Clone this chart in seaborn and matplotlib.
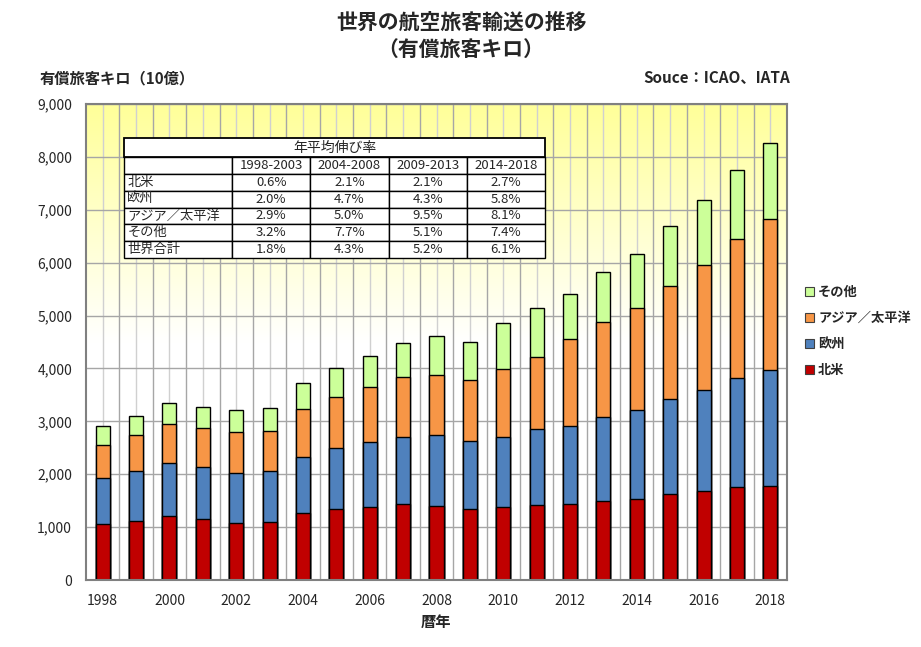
import numpy as np
import pandas as pd
import matplotlib
matplotlib.use("Agg")
import matplotlib.pyplot as plt
import seaborn as sns
from matplotlib.patches import Patch

# data (10億 有償旅客キロ)
years = list(range(1998, 2019))
north_america = [1060, 1123, 1212, 1155, 1086, 1098, 1263, 1351, 1389, 1433, 1408,
                 1345, 1389, 1427, 1446, 1496, 1540, 1623, 1692, 1755, 1768]
europe = [866, 936, 998, 979, 928, 966, 1054, 1143, 1212, 1275, 1325,
          1288, 1319, 1420, 1471, 1579, 1667, 1799, 1894, 2071, 2203]
asia_pacific = [625, 674, 738, 732, 789, 752, 909, 961, 1044, 1134, 1147,
                1142, 1288, 1364, 1635, 1799, 1932, 2146, 2367, 2629, 2863]
others = [352, 360, 391, 411, 404, 429, 492, 555, 590, 633, 725,
          733, 865, 941, 852, 947, 1016, 1127, 1225, 1300, 1431]

regions = ["北米", "欧州", "アジア／太平洋", "その他"]
colors = ["#C00000", "#4F81BD", "#F79646", "#CCFF99"]

# growth table
periods = ["1998-2003", "2004-2008", "2009-2013", "2014-2018"]
table_rows = ["北米", "欧州", "アジア／太平洋", "その他", "世界合計"]
growth = [["0.6%", "2.1%", "2.1%", "2.7%"],
          ["2.0%", "4.7%", "4.3%", "5.8%"],
          ["2.9%", "5.0%", "9.5%", "8.1%"],
          ["3.2%", "7.7%", "5.1%", "7.4%"],
          ["1.8%", "4.3%", "5.2%", "6.1%"]]

sns.set_style("white")
plt.rcParams['font.family'] = ['Noto Sans CJK JP', 'DejaVu Sans']

df = pd.DataFrame({"year": [str(y) for y in years],
                   "北米": north_america, "欧州": europe,
                   "アジア／太平洋": asia_pacific, "その他": others})
cum = df[regions].cumsum(axis=1)

fig = plt.figure(figsize=(9.21, 6.47), dpi=100)
ax = fig.add_axes([86 / 921, 1 - 580 / 647, 701 / 921, 476 / 647])

# yellow gradient background
vals = np.linspace(0, 9000, 300)[:, None]
t = np.clip((vals - 4500) / 4500, 0, 1)
top = np.array([1.0, 1.0, 0.6])
grad = (1 - t)[..., None] * np.ones(3) + t[..., None] * top
ax.imshow(grad, extent=[-0.5, 20.5, 0, 9000], origin="lower", aspect="auto", zorder=0)

# stacked bars: tallest first
for reg, col in reversed(list(zip(regions, colors))):
    sns.barplot(x=df["year"], y=cum[reg], color=col, width=0.42,
                edgecolor="black", linewidth=1.0, saturation=1, ax=ax, zorder=2)

ax.set_xlim(-0.5, 20.5)
ax.set_ylim(0, 9000)
ax.set_yticks(range(0, 9001, 1000))
ax.set_yticklabels([f"{v:,}" for v in range(0, 9001, 1000)])
ax.set_xticks(range(0, 21, 2))
ax.set_xticklabels([str(y) for y in years[::2]])
ax.set_xticks(np.arange(0, 21, 1), minor=True)
ax.tick_params(axis="both", which="both", length=0, labelsize=10, pad=10)
ax.set_xlabel("")
ax.set_ylabel("")

ax.set_axisbelow(True)
ax.grid(axis="y", color="#A6A6A6", linewidth=1.0, zorder=1)
ax.grid(axis="x", which="minor", color="#D0D0D0", linewidth=1.0, zorder=1)
ax.grid(axis="x", which="major", color="#D0D0D0", linewidth=1.0, zorder=1)
for b in np.arange(0.5, 20, 1):
    ax.axvline(b, color="#A6A6A6", linewidth=1.0, zorder=1)
for s in ax.spines.values():
    s.set_color("#808080")
    s.set_linewidth(1.5)

# table
x0 = (124 - 86) / 701
x1 = (545 - 86) / 701
y0 = 1 - (258 - 104) / 476
y1 = 1 - (138 - 104) / 476
ym = 1 - (157 - 104) / 476
cell_text = [[""] + periods] + [[r] + g for r, g in zip(table_rows, growth)]
w_first = 108 / 421
w_other = (1 - w_first) / 4
tbl = ax.table(cellText=cell_text, bbox=[x0, y0, x1 - x0, ym - y0],
               colWidths=[w_first * (x1 - x0)] + [w_other * (x1 - x0)] * 4,
               cellLoc="center", zorder=5)
tbl.auto_set_font_size(False)
tbl.set_fontsize(9.5)
for (r, c), cell in tbl.get_celld().items():
    cell.set_facecolor("white")
    cell.set_edgecolor("black")
    cell.set_linewidth(1.0)
    if c == 0 and r >= 1:
        cell._loc = "left"
        cell.get_text().set_ha("left")
        cell.PAD = 0.03
head = ax.table(cellText=[["年平均伸び率"]], bbox=[x0, ym, x1 - x0, y1 - ym],
                cellLoc="center", zorder=5)
head.auto_set_font_size(False)
head.set_fontsize(10)
for cell in head.get_celld().values():
    cell.set_facecolor("white")
    cell.set_edgecolor("black")
    cell.set_linewidth(1.3)

# legend
handles = [Patch(facecolor=c, edgecolor="#404040", linewidth=0.8, label=r)
           for r, c in zip(regions, colors)][::-1]
fig.legend(handles=handles, loc="upper left", bbox_to_anchor=(793 / 921, 1 - 273 / 647),
           frameon=False, handlelength=0.7, handleheight=0.7, handletextpad=0.3,
           labelspacing=0.92, prop={"weight": "bold", "size": 9.5})

# texts
fig.text(461 / 921, 1 - 22 / 647, "世界の航空旅客輸送の推移", ha="center", va="center",
         fontsize=15, fontweight="bold")
fig.text(461 / 921, 1 - 50 / 647, "（有償旅客キロ）", ha="center", va="center",
         fontsize=15, fontweight="bold")
fig.text(40 / 921, 1 - 78 / 647, "有償旅客キロ（10億）", ha="left", va="center",
         fontsize=11, fontweight="bold")
fig.text(790 / 921, 1 - 78 / 647, "Souce：ICAO、IATA", ha="right", va="center",
         fontsize=11, fontweight="bold")
fig.text(436 / 921, 1 - 622 / 647, "暦年", ha="center", va="center",
         fontsize=11, fontweight="bold")

fig.savefig("out.png", dpi=100)
